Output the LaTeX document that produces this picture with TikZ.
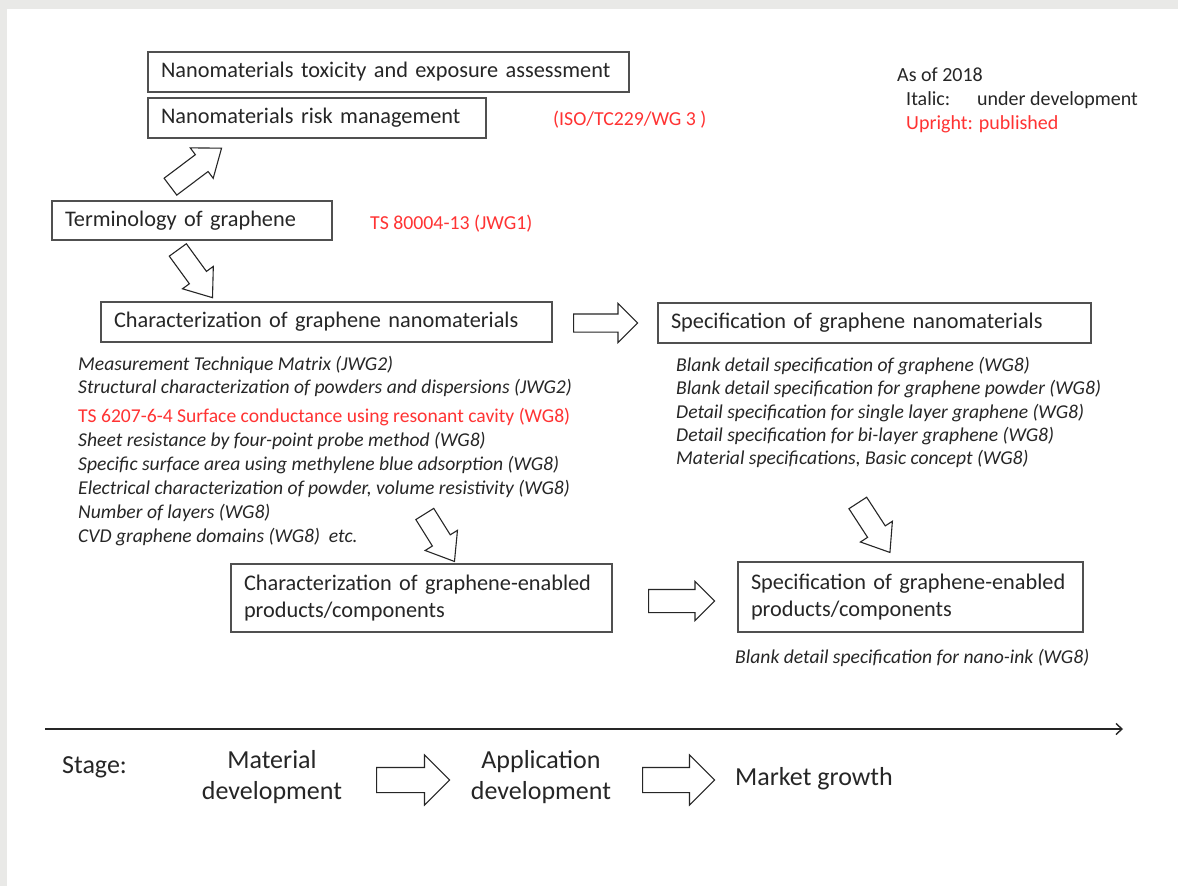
\documentclass[tikz,border=0pt]{standalone}
\usepackage{fontspec}
\setmainfont{Carlito}
\usetikzlibrary{shapes.arrows,arrows.meta}
\definecolor{bggray}{HTML}{E9E9E7}
\definecolor{ink}{HTML}{262626}
\definecolor{edge}{HTML}{505050}
\definecolor{pubred}{HTML}{FF3333}
\begin{document}
\begin{tikzpicture}[x=1pt, y=-1pt,
    box/.style={draw=edge, line width=1.2pt, inner xsep=13pt, inner ysep=0pt,
      align=left, text=ink, font=\fontsize{22.3}{27}\selectfont},
    note/.style={anchor=base west, inner sep=0pt, text=ink,
      font=\fontsize{19.6}{24}\selectfont\itshape},
    pub/.style={anchor=base west, inner sep=0pt, text=pubred,
      font=\fontsize{19.8}{24}\selectfont},
    hollow/.style={single arrow, draw=ink, line width=1.1pt, inner xsep=0pt,
      inner ysep=10pt, anchor=tail, single arrow head extend=8.5pt}]
  \useasboundingbox (0,0) rectangle (1178,886);
  \fill[bggray] (0,0) rectangle (1178,886);
  \fill[white] (7,9) rectangle (1178,886);
  % boxes
  \node[box, text width=455pt, minimum height=40pt] (tox) at (388.5,72)
    {Nanomaterials toxicity and exposure assessment};
  \node[box, text width=312pt, minimum height=40pt] (risk) at (317,118)
    {Nanomaterials risk management};
  \node[box, text width=254pt, minimum height=39pt] (term) at (192,220.5)
    {Terminology of graphene};
  \node[box, text width=425pt, minimum height=40pt] (charnano) at (326.5,322)
    {Characterization of graphene nanomaterials};
  \node[box, text width=407pt, minimum height=40pt] (specnano) at (874.5,323)
    {Specification of graphene nanomaterials};
  \node[box, text width=355pt, minimum height=68pt] (charprod) at (421.5,598)
    {Characterization of graphene-enabled\\products/components};
  \node[box, text width=319pt, minimum height=70pt] (specprod) at (910.5,597)
    {Specification of graphene-enabled\\products/components};
  % red labels
  \node[pub] (wg3) at (553,125) {(ISO/TC229/WG 3 )};
  \node[pub] (jwg1) at (370,229) {TS 80004-13 (JWG1)};
  % legend
  \node[note, font=\fontsize{20}{24}\selectfont] (asof) at (897,81) {As of 2018};
  \node[note, font=\fontsize{20}{24}\selectfont] (italic) at (906,105) {Italic:};
  \node[note, font=\fontsize{20}{24}\selectfont] (under) at (977,105) {under development};
  \node[pub, font=\fontsize{20}{24}\selectfont] (upright) at (906,129) {Upright: published};
  % standards under the nanomaterial boxes
  \node[note] (l1) at (78,370) {Measurement Technique Matrix (JWG2)};
  \node[note] (l2) at (78,393) {Structural characterization of powders and dispersions (JWG2)};
  \node[pub, font=\fontsize{19.6}{24}\selectfont] (l3) at (78,422)
    {TS 6207-6-4 Surface conductance using resonant cavity (WG8)};
  \node[note] (l4) at (78,446) {Sheet resistance by four-point probe method (WG8)};
  \node[note] (l5) at (78,470) {Specific surface area using methylene blue adsorption (WG8)};
  \node[note] (l6) at (78,494) {Electrical characterization of powder, volume resistivity (WG8)};
  \node[note] (l7) at (78,518) {Number of layers (WG8)};
  \node[note] (l8) at (78,542) {CVD graphene domains (WG8)~~etc.};
  \node[note] (r1) at (676,371) {Blank detail specification of graphene (WG8)};
  \node[note] (r2) at (676,394) {Blank detail specification for graphene powder (WG8)};
  \node[note] (r3) at (676,418) {Detail specification for single layer graphene (WG8)};
  \node[note] (r4) at (676,441) {Detail specification for bi-layer graphene (WG8)};
  \node[note] (r5) at (676,464) {Material specifications, Basic concept (WG8)};
  \node[note] (ink) at (735,663) {Blank detail specification for nano-ink (WG8)};
  % hollow arrows
  \begin{scope}[every node/.style={hollow}]
    \node[rotate=37, minimum height=64pt, single arrow tip angle=75] (up1) at (170,187) {};
    \node[rotate=-54, minimum height=59pt, single arrow tip angle=75] (dn1) at (177.5,249.5) {};
    \node[rotate=-58, minimum height=56pt, single arrow tip angle=75] (dn2) at (424.5,513.5) {};
    \node[rotate=-57, minimum height=59pt, single arrow tip angle=75] (dn3) at (857.5,502.5) {};
    \node[minimum height=64pt, inner ysep=8.5pt, single arrow head extend=10.5pt] (rt1) at (573,323) {};
    \node[minimum height=66pt, inner ysep=11pt, single arrow head extend=8pt] (rt2) at (648,601) {};
    \node[minimum height=73pt, inner ysep=12pt, single arrow head extend=12.5pt] (st1) at (376,780) {};
    \node[minimum height=72pt, inner ysep=12pt, single arrow head extend=12.5pt] (st2) at (642,780) {};
  \end{scope}
  % time line and stages
  \coordinate (t0) at (45,729);
  \coordinate (t1) at (1123,729);
  \draw[ink, line width=1.4pt, -{Straight Barb[length=6pt, width=11pt]}] (t0) -- (t1);
  \begin{scope}[every node/.style={text=ink, inner sep=0pt, align=center,
      font=\fontsize{26}{31}\selectfont}]
    \node[anchor=base west] (stage) at (62,773) {Stage:};
    \node (matdev) at (272,777) {Material\\development};
    \node (appdev) at (541,777) {Application\\development};
    \node[anchor=base west] (market) at (735,785) {Market growth};
  \end{scope}
\end{tikzpicture}
\end{document}
